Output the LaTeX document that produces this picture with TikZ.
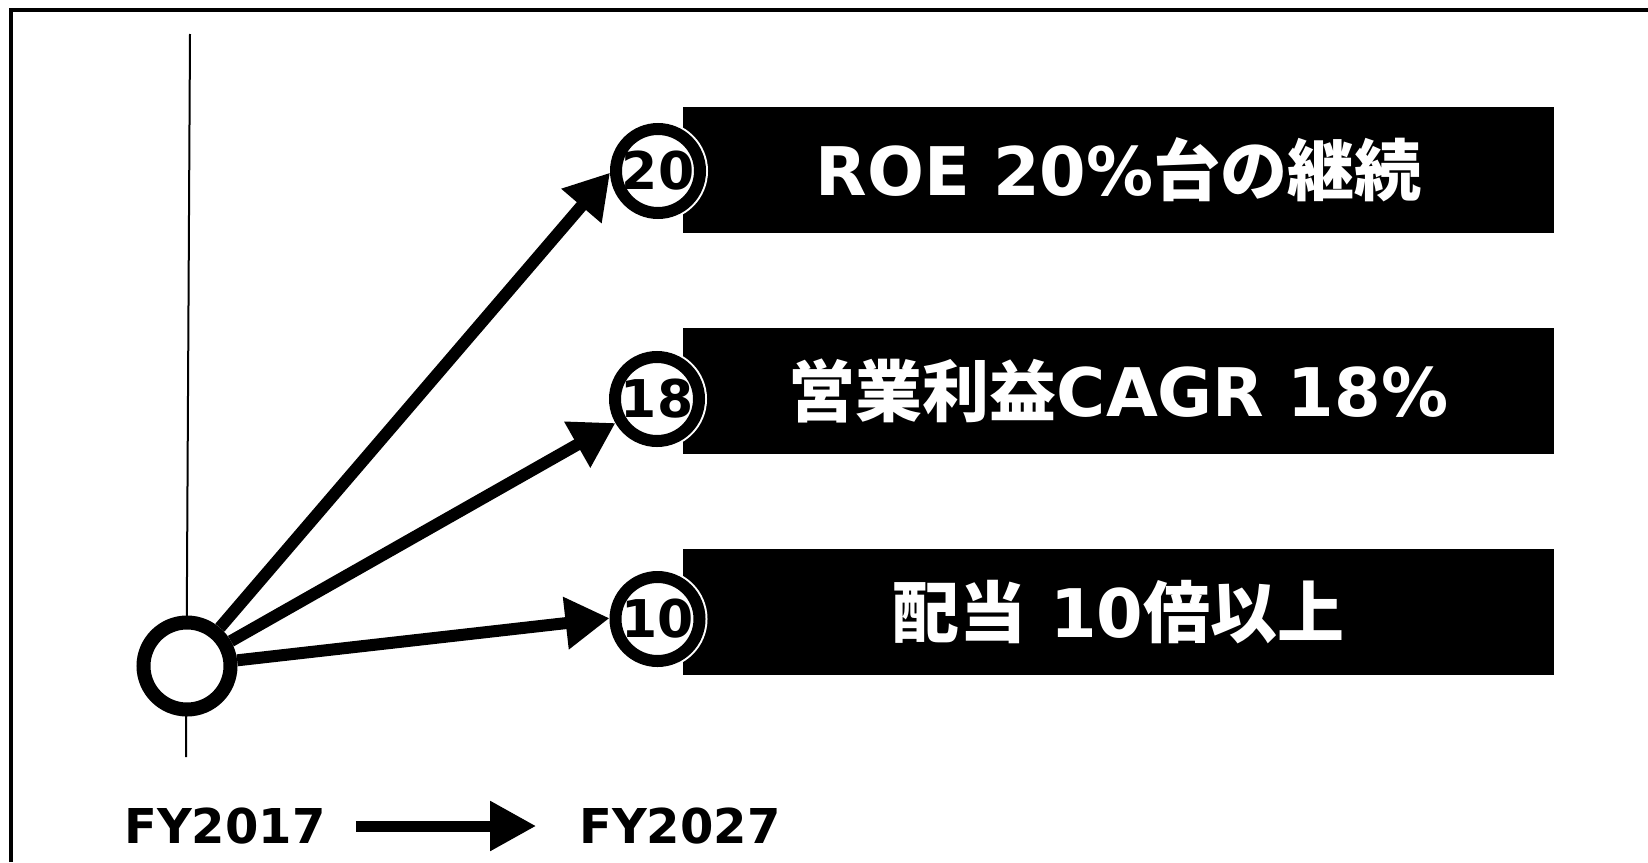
\documentclass[tikz,border=0pt]{standalone}
\usepackage{fontspec}
\setmainfont{DejaVu Sans}
\newfontfamily\cjk{Noto Sans CJK JP}
\usetikzlibrary{arrows.meta}
\begin{document}
\begin{tikzpicture}[x=1pt,y=-1pt,
  frame/.style={line width=3.5pt},
  axisline/.style={line width=2pt},
  ring/.style={circle, draw=black, fill=white, line width=12pt, minimum size=84pt, inner sep=0pt,
    font=\fontsize{52}{52}\selectfont\bfseries, preaction={draw=white, line width=16pt}},
  startring/.style={circle, draw=black, fill=white, line width=14pt, minimum size=87pt, inner sep=0pt},
  bar/.style={fill=black, text=white, minimum width=871pt, minimum height=126pt, inner sep=0pt,
    font=\fontsize{67}{67}\selectfont\bfseries},
  arr/.style={line width=12pt, -{Triangle[length=44pt,width=50pt]}},
  yr/.style={font=\fontsize{48}{48}\selectfont\bfseries, inner sep=0pt}]
\useasboundingbox (0,0) rectangle (1648,862);
\fill[white] (0,0) rectangle (1648,862);
\draw[frame] (11,862) -- (11,10) -- (1648,10);
\coordinate (t0) at (190,34);
\coordinate (t1) at (186,757);
\draw[axisline] (t0) -- (t1);
\node[bar] (b1) at (1118.5,170) {ROE 20\%{\cjk 台の継続}};
\node[bar] (b2) at (1118.5,391) {{\cjk 営業利益}CAGR 18\%};
\node[bar] (b3) at (1118.5,612) {{\cjk 配当} 10{\cjk 倍以上}};
\node[ring] (c1) at (658,171) {20};
\node[ring] (c2) at (657,399) {18};
\node[ring] (c3) at (657.5,619) {10};
\node[startring] (c0) at (187,666) {};
\draw[arr] (c0) -- (c1.182);
\draw[arr] (c0) -- (c2.210);
\draw[arr] (c0) -- (c3.179);
\node[yr] (y1) at (225,826) {FY2017};
\node[yr] (y2) at (680,826) {FY2027};
\draw[line width=11pt, -{Triangle[length=46pt,width=47pt]}, shorten <=30pt, shorten >=43pt] (y1.east) -- (y2.west);
\end{tikzpicture}
\end{document}
